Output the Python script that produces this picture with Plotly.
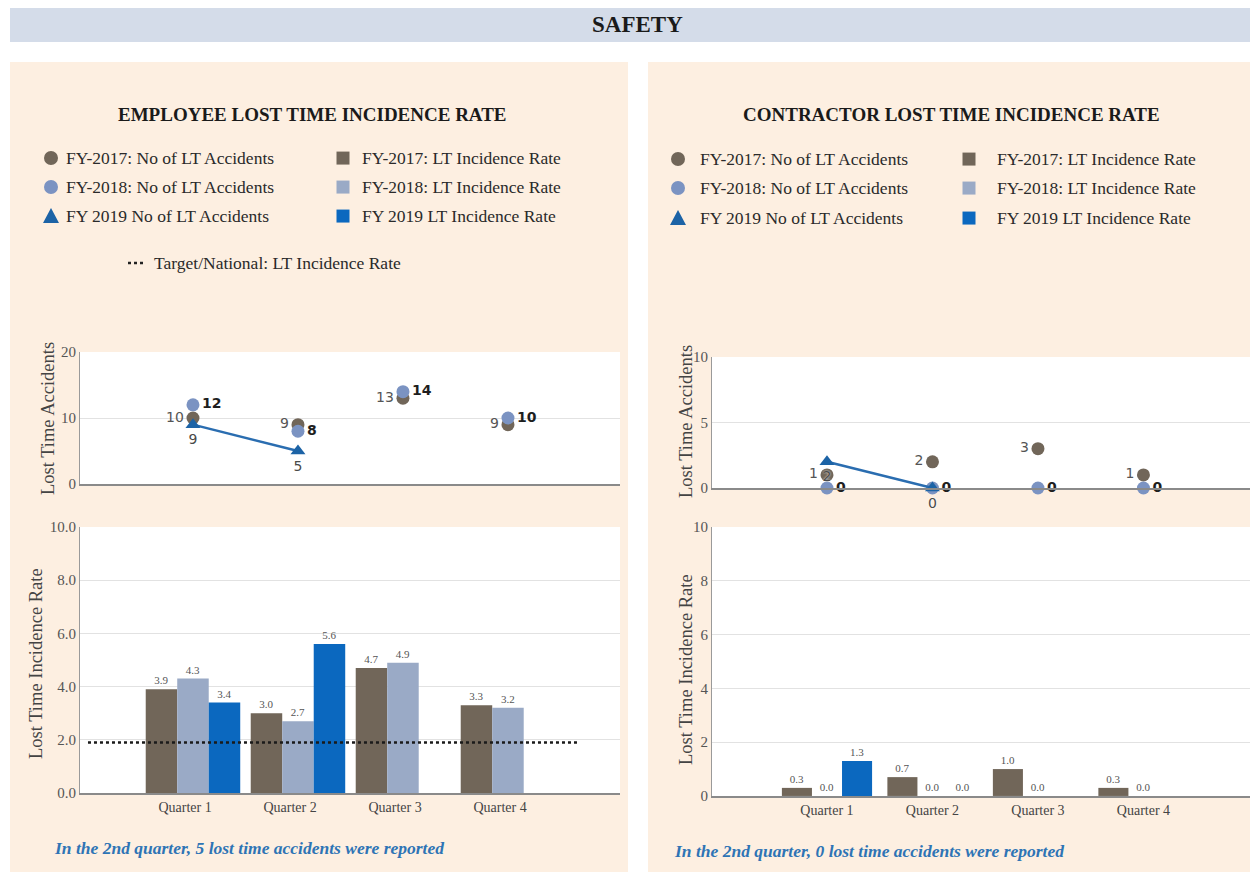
import plotly.graph_objects as go

# canvas; the page shows the figure 8 px down and about 1.8 % shorter
W, H = 1250, 880
TOP, YSCALE = 7.9, 0.982

# ---- data -------------------------------------------------------------
QUARTERS = ["Quarter 1", "Quarter 2", "Quarter 3", "Quarter 4"]

emp_acc_2017 = [10, 9, 13, 9]
emp_acc_2018 = [12, 8, 14, 10]
emp_acc_2019 = [9, 5, None, None]
emp_rate_2017 = [3.9, 3.0, 4.7, 3.3]
emp_rate_2018 = [4.3, 2.7, 4.9, 3.2]
emp_rate_2019 = [3.4, 5.6, None, None]
emp_target = 1.9

con_acc_2017 = [1, 2, 3, 1]
con_acc_2018 = [0, 0, 0, 0]
con_acc_2019 = [2, 0, None, None]
con_rate_2017 = [0.3, 0.7, 1.0, 0.3]
con_rate_2018 = [0.0, 0.0, 0.0, 0.0]
con_rate_2019 = [1.3, 0.0, None, None]

# ---- styling ----------------------------------------------------------
C17 = "#716659"
C18_DOT = "#7b93c2"
C18_BAR = "#9aaac6"
C19 = "#0b68bf"
C19_TRI = "#1c63a6"
PEACH = "#fdefe1"
BAND = "#d4dce9"
SERIF = "Liberation Serif"
SANS = "DejaVu Sans"

POS = list(range(len(QUARTERS)))


def px(x):
    return x / W


def py(y):
    return min(1.0, max(0.0, 1 - ((y - TOP) / YSCALE) / H))


def labels(vals):
    return ["" if v is None else str(v) for v in vals]


fig = go.Figure()


def add_scatter(xa, ya, a17, a18, a19):
    fig.add_trace(go.Scatter(
        x=POS, y=a17, mode="markers+text", text=labels(a17),
        textposition="middle left",
        textfont=dict(family=SANS, size=14, color="#555"),
        marker=dict(symbol="circle", size=13, color=C17),
        xaxis=xa, yaxis=ya, cliponaxis=False, name="FY-2017: No of LT Accidents"))
    fig.add_trace(go.Scatter(
        x=POS, y=a18, mode="markers+text", text=labels(a18),
        textposition="middle right",
        textfont=dict(family=SANS, size=14, color="#1e1e1e", weight="bold"),
        marker=dict(symbol="circle", size=13, color=C18_DOT),
        xaxis=xa, yaxis=ya, cliponaxis=False, name="FY-2018: No of LT Accidents"))
    fig.add_trace(go.Scatter(
        x=POS, y=a19, mode="lines+markers+text", text=labels(a19),
        textposition="bottom center",
        textfont=dict(family=SANS, size=14, color="#4a4a4a",
                      shadow="0px 0px 2px white"),
        marker=dict(symbol="triangle-up", size=13, color=C19_TRI),
        line=dict(color="#2a6db0", width=2.5),
        xaxis=xa, yaxis=ya, cliponaxis=False, name="FY 2019 No of LT Accidents"))


def add_bars(xa, ya, r17, r18, r19, w):
    for vals, col, off, nm in [
        (r17, C17, -1.5 * w, "FY-2017: LT Incidence Rate"),
        (r18, C18_BAR, -0.5 * w, "FY-2018: LT Incidence Rate"),
        (r19, C19, 0.5 * w, "FY 2019 LT Incidence Rate"),
    ]:
        fig.add_trace(go.Bar(
            x=POS, y=vals, width=w, offset=off, marker=dict(color=col, line=dict(width=0)),
            texttemplate="%{y:.1f}", textposition="outside",
            textfont=dict(family=SERIF, size=11, color="#555"),
            xaxis=xa, yaxis=ya, cliponaxis=False, name=nm))


add_scatter("x", "y", emp_acc_2017, emp_acc_2018, emp_acc_2019)
add_bars("x2", "y2", emp_rate_2017, emp_rate_2018, emp_rate_2019, 0.3)
add_scatter("x3", "y3", con_acc_2017, con_acc_2018, con_acc_2019)
add_bars("x4", "y4", con_rate_2017, con_rate_2018, con_rate_2019, 0.285)

# ---- axes -------------------------------------------------------------
tickfont = dict(family=SERIF, size=15, color="#555")
qfont = dict(family=SERIF, size=14, color="#444")
grid = "#e2e2e2"
L_DOM = [px(80), px(620)]
R_DOM = [px(712), 1.0]
L_RANGE = [-1.076, 4.067]
R_RANGE = [-1.09, 4.01]

xbase = dict(showgrid=False, zeroline=False, showline=True, linecolor="#8a8a8a",
             linewidth=1.5, ticks="", fixedrange=True)
ybase = dict(showgrid=True, gridcolor=grid, zeroline=False, showline=True,
             linecolor="#9a9a9a", linewidth=1, ticks="", tickfont=tickfont,
             fixedrange=True)

fig.update_layout(
    xaxis=dict(xbase, domain=L_DOM, range=L_RANGE, anchor="y", showticklabels=False),
    yaxis=dict(ybase, domain=[py(484), py(352)], range=[0, 20], tickvals=[0, 10, 20], anchor="x"),
    xaxis2=dict(xbase, domain=L_DOM, range=L_RANGE, anchor="y2",
                tickvals=[p - 0.075 for p in POS], ticktext=QUARTERS, tickfont=qfont),
    yaxis2=dict(ybase, domain=[py(793), py(527)], range=[0, 10], dtick=2,
                tickformat=".1f", anchor="x2"),
    xaxis3=dict(xbase, domain=R_DOM, range=R_RANGE, anchor="y3", showticklabels=False),
    yaxis3=dict(ybase, domain=[py(488), py(357)], range=[0, 10], tickvals=[0, 5, 10], anchor="x3"),
    xaxis4=dict(xbase, domain=R_DOM, range=R_RANGE, anchor="y4", tickvals=POS,
                ticktext=QUARTERS, tickfont=qfont),
    yaxis4=dict(ybase, domain=[py(796), py(527)], range=[0, 10], dtick=2, anchor="x4"),
)

# ---- background panels, plot areas, target line -----------------------
shapes = [
    dict(type="rect", xref="paper", yref="paper", x0=px(10), x1=1.0, y0=py(42), y1=py(6),
         fillcolor=BAND, line=dict(width=0), layer="below"),
    dict(type="rect", xref="paper", yref="paper", x0=px(10), x1=px(628), y0=0, y1=py(62),
         fillcolor=PEACH, line=dict(width=0), layer="below"),
    dict(type="rect", xref="paper", yref="paper", x0=px(648), x1=1.0, y0=0, y1=py(62),
         fillcolor=PEACH, line=dict(width=0), layer="below"),
]
for xa, ya in [("x", "y"), ("x2", "y2"), ("x3", "y3"), ("x4", "y4")]:
    shapes.append(dict(type="rect", xref=f"{xa} domain", yref=f"{ya} domain",
                       x0=0, x1=1, y0=0, y1=1, fillcolor="white",
                       line=dict(width=0), layer="below"))
shapes.append(dict(type="line", xref="x2", yref="y2", x0=-1.0, x1=3.67,
                   y0=emp_target, y1=emp_target,
                   line=dict(color="#1a1a1a", width=2.5, dash="dot")))

# ---- legends (drawn by hand in two columns) ---------------------------
ann = []
LEG_FONT = dict(family=SERIF, size=17.5, color="#2a2a2a")


def legend_block(cx1, tx1, cx2, tx2, rows):
    acc_names = ["FY-2017: No of LT Accidents", "FY-2018: No of LT Accidents",
                 "FY 2019 No of LT Accidents"]
    rate_names = ["FY-2017: LT Incidence Rate", "FY-2018: LT Incidence Rate",
                  "FY 2019 LT Incidence Rate"]
    dot_cols = [C17, C18_DOT, C19_TRI]
    bar_cols = [C17, C18_BAR, C19]
    for i, yy in enumerate(rows):
        r = 7
        if i < 2:
            shapes.append(dict(type="circle", xref="paper", yref="paper",
                               x0=px(cx1 - r), x1=px(cx1 + r), y0=py(yy + r), y1=py(yy - r),
                               fillcolor=dot_cols[i], line=dict(width=0)))
        else:
            path = (f"M {px(cx1 - 8)} {py(yy + 7)} L {px(cx1 + 8)} {py(yy + 7)} "
                    f"L {px(cx1)} {py(yy - 8)} Z")
            shapes.append(dict(type="path", xref="paper", yref="paper", path=path,
                               fillcolor=dot_cols[i], line=dict(width=0)))
        s = 6.5
        shapes.append(dict(type="rect", xref="paper", yref="paper",
                           x0=px(cx2 - s), x1=px(cx2 + s), y0=py(yy + s), y1=py(yy - s),
                           fillcolor=bar_cols[i], line=dict(width=0)))
        ann.append(dict(x=px(tx1), y=py(yy), text=acc_names[i], xanchor="left", font=LEG_FONT))
        ann.append(dict(x=px(tx2), y=py(yy), text=rate_names[i], xanchor="left", font=LEG_FONT))


legend_block(51, 64, 343, 360, [158, 187, 216])
legend_block(678, 698, 969, 995, [159, 188, 218])

shapes.append(dict(type="line", xref="paper", yref="paper", x0=px(128), x1=px(146),
                   y0=py(263), y1=py(263), line=dict(color="#222", width=2.5, dash="dot")))
ann.append(dict(x=px(152), y=py(263), text="Target/National: LT Incidence Rate",
                xanchor="left", font=LEG_FONT))

# ---- titles and notes -------------------------------------------------
AX_FONT = dict(family=SERIF, size=18.5, color="#444")
ann += [
    dict(x=px(637), y=py(24), text="<b>SAFETY</b>", font=dict(family=SERIF, size=23, color="#1a1a1a")),
    dict(x=px(312), y=py(114), text="<b>EMPLOYEE LOST TIME INCIDENCE RATE</b>",
         font=dict(family=SERIF, size=19, color="#1a1a1a")),
    dict(x=px(951), y=py(114), text="<b>CONTRACTOR LOST TIME INCIDENCE RATE</b>",
         font=dict(family=SERIF, size=19, color="#1a1a1a")),
    dict(x=px(48), y=py(418), text="Lost Time Accidents", textangle=-90, font=AX_FONT),
    dict(x=px(36), y=py(664), text="Lost Time Incidence Rate", textangle=-90, font=AX_FONT),
    dict(x=px(686), y=py(422), text="Lost Time Accidents", textangle=-90, font=AX_FONT),
    dict(x=px(686), y=py(670), text="Lost Time Incidence Rate", textangle=-90, font=AX_FONT),
    dict(x=px(52), y=py(848), xanchor="left",
         text="<b><i>In the 2nd quarter, 5 lost time accidents were reported</i></b>",
         font=dict(family=SERIF, size=17.5, color="#2e74b5")),
    dict(x=px(672), y=py(851), xanchor="left",
         text="<b><i>In the 2nd quarter, 0 lost time accidents were reported</i></b>",
         font=dict(family=SERIF, size=17.5, color="#2e74b5")),
]
for a in ann:
    a.setdefault("xref", "paper")
    a.setdefault("yref", "paper")
    a.setdefault("showarrow", False)
    a.setdefault("xanchor", "center")
    a.setdefault("yanchor", "middle")

fig.update_layout(
    width=W, height=H, margin=dict(l=0, r=0, t=0, b=0),
    paper_bgcolor="white", plot_bgcolor="rgba(0,0,0,0)",
    showlegend=False, barmode="group",
    shapes=shapes, annotations=ann,
)

fig.write_html("out.html")
